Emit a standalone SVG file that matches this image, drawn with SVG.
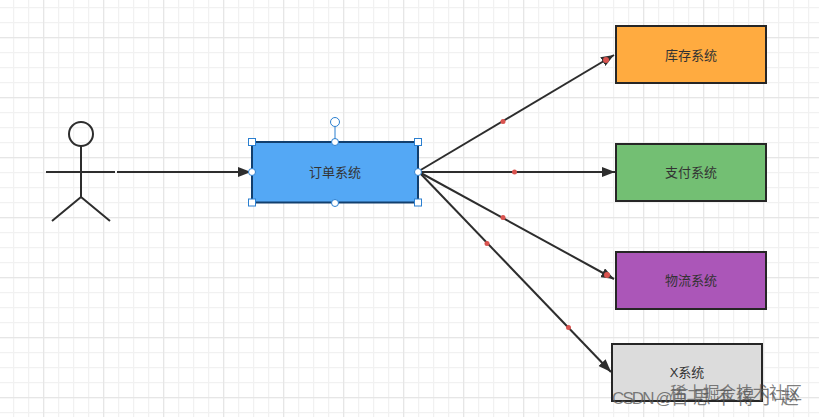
<svg xmlns="http://www.w3.org/2000/svg" width="819" height="417" viewBox="0 0 819 417">
<defs>
<style>
.minor{stroke:#f1f1f1;stroke-width:1.500;fill:none}
.major{stroke:#e6e6e6;stroke-width:1.500;fill:none}
.box{stroke:#262626;stroke-width:2}
.label{font-family:"Liberation Sans","Noto Sans CJK SC",sans-serif;font-size:13px;fill:#333;text-anchor:middle}
.wm{font-family:"Liberation Sans","Noto Sans CJK SC",sans-serif;fill:#555;fill-opacity:.75}
.conn{stroke:#2d2d2d;stroke-width:2;fill:none;marker-end:url(#arrow)}
.dot{fill:#d9534f}
.actor{stroke:#2d2d2d;stroke-width:2;fill:none}
.h{fill:#fff;stroke:#2b7fd0;stroke-width:1}
</style>
<marker id="arrow" markerUnits="userSpaceOnUse" markerWidth="14" markerHeight="10" refX="13" refY="5" orient="auto"><path d="M0 0L13 5L0 10Z" fill="#2d2d2d"/></marker>
<pattern id="gm" width="15" height="15" patternUnits="userSpaceOnUse" x="13" y="7"><path d="M0.5 0V15M0 0.5H15" class="minor"/></pattern>
<pattern id="gM" width="60" height="60" patternUnits="userSpaceOnUse" x="43" y="37"><path d="M0.5 0V60M0 0.5H60" class="major"/></pattern>
</defs>
<rect width="819" height="417" fill="#fff"/>
<rect id="grid-minor" width="819" height="417" fill="url(#gm)"/>
<rect id="grid-major" width="819" height="417" fill="url(#gM)"/>
<g id="connectors">
<path class="conn" d="M117 172H251"/>
<path class="conn" d="M419 171L614 55"/>
<path class="conn" d="M419 172H615"/>
<path class="conn" d="M419 172L614 279"/>
<path class="conn" d="M419 172L611 372"/>
<circle class="dot" cx="503" cy="121.500" r="2.500"/>
<circle class="dot" cx="606" cy="60" r="3"/>
<circle class="dot" cx="514.500" cy="172" r="2.500"/>
<circle class="dot" cx="503" cy="217.500" r="2.500"/>
<circle class="dot" cx="607" cy="275" r="3"/>
<circle class="dot" cx="487" cy="243.500" r="2.500"/>
<circle class="dot" cx="568.500" cy="327.500" r="2.500"/>
</g>
<g id="actor">
<circle class="actor" cx="81" cy="134" r="12"/>
<path class="actor" d="M81 146V197M46 172H115M81 197L52 221M81 197L110 221"/>
</g>
<g id="order">
<rect x="252" y="142" width="166" height="60.500" fill="#54a8f5" stroke="#123f6e" stroke-width="2"/>
<text class="label" x="335" y="177">订单系统</text>
<path d="M335 142V127" stroke="#2b7fd0" fill="none"/>
<circle class="h" cx="335" cy="122" r="4.500"/>
<rect class="h" x="248.500" y="138.500" width="7" height="7"/>
<rect class="h" x="414.500" y="138.500" width="7" height="7"/>
<rect class="h" x="248.500" y="199" width="7" height="7"/>
<rect class="h" x="414.500" y="199" width="7" height="7"/>
<circle class="h" cx="335" cy="142" r="3.500"/>
<circle class="h" cx="335" cy="203" r="3.500"/>
<circle class="h" cx="252" cy="172" r="3.500"/>
<circle class="h" cx="418" cy="172" r="3.500"/>
</g>
<g id="inventory"><rect class="box" x="616" y="26" width="150" height="57" fill="#ffab40"/><text class="label" x="691" y="60">库存系统</text></g>
<g id="payment"><rect class="box" x="616" y="144" width="150" height="57" fill="#73bf73"/><text class="label" x="691" y="177">支付系统</text></g>
<g id="logistics"><rect class="box" x="616" y="252" width="150" height="57" fill="#ab56b8"/><text class="label" x="691" y="285">物流系统</text></g>
<g id="x"><rect class="box" x="612" y="344" width="150" height="57" fill="#dcdcdc"/><text class="label" x="687" y="377">X系统</text></g>
<text class="wm" x="670" y="399" font-size="16.500">稀土掘金技术社区</text>
<text class="wm" x="612" y="404" font-size="18"><tspan font-size="17" letter-spacing="-1.900">CSDN @</tspan><tspan letter-spacing="4">百思不得小赵</tspan></text>
</svg>
